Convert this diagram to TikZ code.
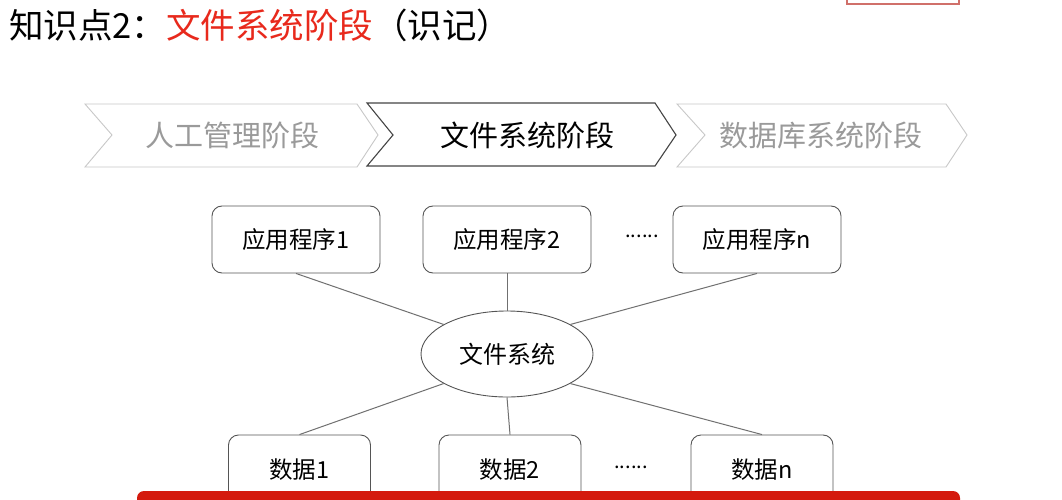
\documentclass[tikz,border=0pt]{standalone}
\usepackage{fontspec}
\setmainfont{Noto Sans CJK SC}
\usetikzlibrary{shapes.geometric}
\definecolor{titlered}{HTML}{E8291C}
\definecolor{barred}{HTML}{D41A0E}
\definecolor{lightgr}{HTML}{C8C8C8}
\definecolor{textgr}{HTML}{9A9A9A}
\definecolor{darkgr}{HTML}{444444}
\definecolor{linegr}{HTML}{707070}
\definecolor{boxgr}{HTML}{555555}
\definecolor{pinkline}{HTML}{D0706A}
\tikzset{
  chevlight/.style={draw=lightgr, line width=0.9pt, fill=white},
  chevdark/.style={draw=darkgr, line width=1.1pt, fill=white},
  chevtext/.style={font=\fontsize{29}{30}\selectfont, inner sep=0pt},
  appbox/.style={draw=boxgr, line width=0.9pt, rounded corners=10pt, fill=white,
    minimum width=168pt, minimum height=67pt, inner sep=0pt, font=\fontsize{23.5}{25}\selectfont},
  databox/.style={draw=boxgr, line width=0.9pt, rounded corners=10pt, fill=white,
    minimum width=142pt, minimum height=70pt, inner sep=0pt, font=\fontsize{23.5}{25}\selectfont},
  fsnode/.style={draw=boxgr, line width=0.9pt, ellipse, fill=white,
    minimum width=172pt, minimum height=86pt, inner sep=0pt, font=\fontsize{24}{25}\selectfont},
  link/.style={draw=linegr, line width=1pt},
  dots/.style={font=\fontsize{20}{22}\selectfont, inner sep=0pt}
}
\begin{document}
\begin{tikzpicture}[x=1pt,y=-1pt]
\useasboundingbox (0,0) rectangle (1062,500);
\clip (0,0) rectangle (1062,500);
\fill[white] (0,0) rectangle (1062,500);
% top-right small box
\draw[pinkline, line width=1.2pt] (847,-6) rectangle (959,4);
% title
\node[anchor=west, inner sep=0pt, font=\fontsize{34.5}{35}\selectfont] (title) at (9,25)
  {知识点2：\textcolor{titlered}{文件系统阶段}（识记）};
% chevrons
\draw[chevlight] (85,104) -- (357,104) -- (378,135) -- (357,167) -- (85,167) -- (112,135) -- cycle;
\draw[chevdark] (367,103) -- (655,103) -- (676,135) -- (655,166) -- (367,166) -- (393,135) -- cycle;
\draw[chevlight] (677,104) -- (946,104) -- (967,135) -- (946,167) -- (677,167) -- (705,135) -- cycle;
\node[chevtext, text=textgr] (c1) at (232,135) {人工管理阶段};
\node[chevtext, text=black] (c2) at (527,135) {文件系统阶段};
\node[chevtext, text=textgr] (c3) at (821,135) {数据库系统阶段};
% application boxes
\node[appbox] (app1) at (296,239.5) {应用程序1};
\node[appbox] (app2) at (507,239.5) {应用程序2};
\node[appbox] (appn) at (757,239.5) {应用程序n};
\node[dots] (dtop) at (642,236) {......};
% file system
\node[fsnode] (fs) at (507,354) {文件系统};
% data boxes
\node[databox] (d1) at (299.5,470) {数据1};
\node[databox] (d2) at (510,470) {数据2};
\node[databox] (dn) at (762,470) {数据n};
\node[dots] (dbot) at (631,467) {......};
% links
\draw[link] (fs.155) -- (app1.south);
\draw[link] (fs.north) -- (app2.south);
\draw[link] (fs.25) -- (appn.south);
\draw[link] (fs.205) -- (d1.north);
\draw[link] (fs.south) -- (d2.north);
\draw[link] (fs.-25) -- (dn.north);
% red bar at bottom
\fill[barred, rounded corners=7pt] (137,491) rectangle (960,520);
\end{tikzpicture}
\end{document}
